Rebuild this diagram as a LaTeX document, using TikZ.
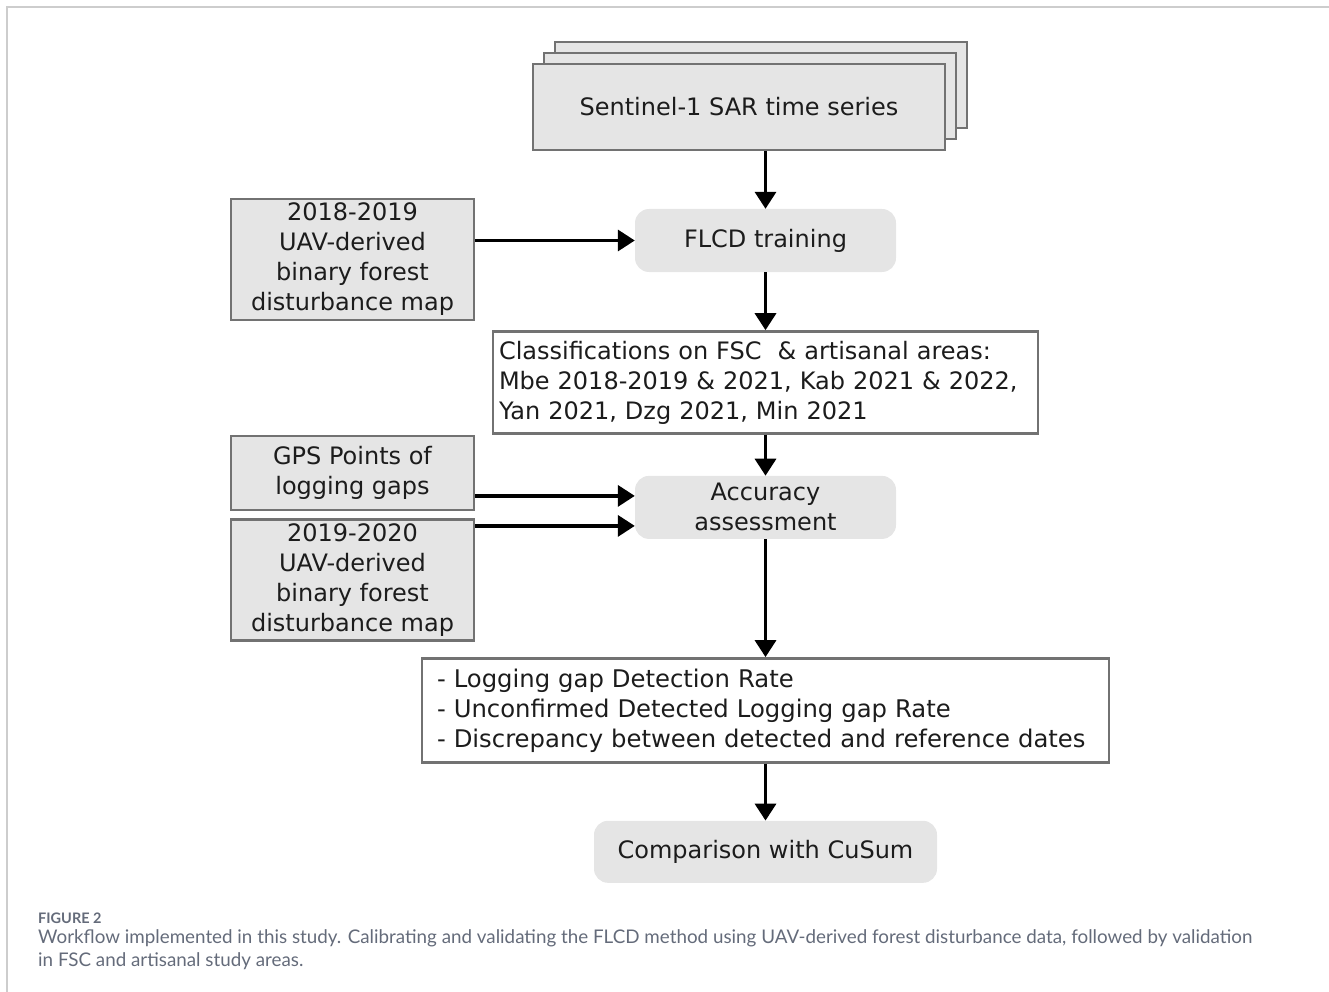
\documentclass[tikz,border=0pt]{standalone}
\usepackage{fontspec}
\setmainfont{DejaVu Sans}
\newfontfamily\captionfont{Lato}
\usepackage{xcolor}
\usepackage{tikz}
\usetikzlibrary{arrows.meta, positioning, shadows, calc}

\definecolor{boxgray}{HTML}{E5E5E5}
\definecolor{edgegray}{HTML}{727272}
\definecolor{textdark}{HTML}{1C1C1C}
\definecolor{capgray}{HTML}{646B7A}
\definecolor{framegray}{HTML}{CDCDCD}

\begin{document}
\begin{tikzpicture}[
    x=1pt, y=-1pt,
    font=\fontsize{24}{30}\selectfont, text=textdark,
    data/.style={rectangle, draw=edgegray, fill=boxgray, line width=2.5pt, align=center, inner sep=2pt, minimum width=243pt},
    proc/.style={rectangle, fill=boxgray, rounded corners=14pt, minimum width=261pt, minimum height=63pt, align=center, inner sep=2pt},
    result/.style={rectangle, draw=edgegray, fill=white, line width=2.5pt, align=left, inner ysep=3pt},
    arrow/.style={-{Triangle[length=17pt, width=21pt]}, line width=3.5pt, draw=black}
]
\useasboundingbox (0,0) rectangle (1329,992);
\draw[framegray, line width=1.5pt] (7,992) -- (7,7) -- (1329,7);

% Inputs and training
\node[data, minimum width=412pt, minimum height=86pt, double copy shadow={shadow xshift=11pt, shadow yshift=11pt}] (sar) at (739,107) {Sentinel-1 SAR time series};
\node[proc] (flcd) at (765.5,240.5) {FLCD training};
\node[data, minimum height=121pt] (uav1) at (352.5,259.5) {2018-2019\\UAV-derived\\binary forest\\disturbance map};

% Classification and validation
\node[result, below=58pt of flcd, minimum width=545pt, text width=533pt, inner xsep=6pt, minimum height=102pt] (classif) {Classifications on FSC~~\& artisanal areas:\\Mbe 2018-2019 \& 2021, Kab 2021 \& 2022,\\Yan 2021, Dzg 2021, Min 2021};
\node[proc, below=41pt of classif] (acc) {Accuracy\\assessment};
\node[data, minimum height=74pt] (gps) at (352.5,473) {GPS Points of\\logging gaps};
\node[data, minimum height=121pt, below=7pt of gps] (uav2) {2019-2020\\UAV-derived\\binary forest\\disturbance map};

% Metrics and comparison
\node[result, below=118pt of acc, minimum width=685pt, text width=657pt, inner xsep=15pt, minimum height=104pt] (metrics) {\fontsize{24.3}{30}\selectfont - Logging gap Detection Rate\\- Unconfirmed Detected Logging gap Rate\\- Discrepancy between detected and reference dates};
\node[proc, below=57pt of metrics, minimum width=343pt, minimum height=62pt] (cusum) {Comparison with CuSum};

% Connectors
\draw[arrow] (sar.south -| flcd.north) -- (flcd.north);
\draw[arrow] (uav1.east |- flcd.west) -- (flcd.west);
\draw[arrow] (flcd) -- (classif);
\draw[arrow] (classif) -- (acc);
\coordinate (accin1) at ([yshift=11.5pt]acc.west);
\coordinate (accin2) at ([yshift=-18.5pt]acc.west);
\draw[arrow] (gps.east |- accin1) -- (accin1);
\draw[arrow] (uav2.east |- accin2) -- (accin2);
\draw[arrow] (acc) -- (metrics);
\draw[arrow] (metrics) -- (cusum);

% Caption
\node[anchor=base west, inner sep=0pt, text=capgray, font=\captionfont\bfseries\fontsize{14.5}{16}\selectfont] (figlabel) at (38,923) {FIGURE 2};
\node[anchor=north west, inner sep=0pt, align=left, text=capgray, font=\captionfont\fontsize{18.8}{23}\selectfont] (figtext) at (38,929.5) {Workflow implemented in this study. Calibrating and validating the FLCD method using UAV-derived forest disturbance data, followed by validation\\in FSC and artisanal study areas.};
\end{tikzpicture}
\end{document}
